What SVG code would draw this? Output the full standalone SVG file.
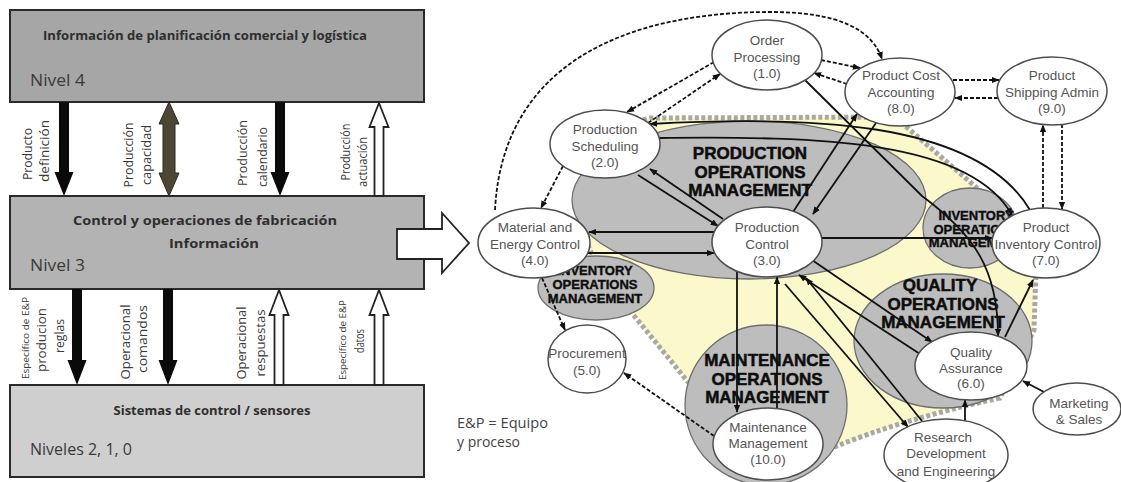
<svg xmlns="http://www.w3.org/2000/svg" width="1121" height="482" viewBox="0 0 1121 482">
  <style>
    .box { stroke: #2a2a2a; stroke-width: 2; }
    .ttl { font-family: "Open Sans", "Noto Sans", sans-serif; font-weight: bold; font-size: 12.5px; fill: #2e2e2e; text-anchor: middle; }
    .lvl { font-family: "Open Sans", "Noto Sans", sans-serif; font-size: 17px; fill: #3a3a3a; }
    .vl { font-family: "Open Sans", "Noto Sans", sans-serif; font-size: 12.5px; fill: #3a3a3a; text-anchor: middle; }
    .vs { font-family: "Open Sans", "Noto Sans", sans-serif; font-size: 9.5px; fill: #3a3a3a; text-anchor: middle; }
    .blk { fill: #0a0a0a; }
    .olv { fill: #4b4733; stroke: #2a2a20; stroke-width: 1; }
    .wht { fill: #ffffff; stroke: #222; stroke-width: 1.8; }
    .leg { font-family: "Open Sans", "Noto Sans", sans-serif; font-size: 14px; fill: #444; }
    .zone { fill: #bdbdbd; stroke: #6e6e6e; stroke-width: 1.3; }
    .zt { font-family: "Liberation Sans", Arial, sans-serif; font-weight: bold; font-size: 17px; fill: #0d0d0d; stroke: #0d0d0d; stroke-width: 0.5; text-anchor: middle; }
    .zs { font-family: "Liberation Sans", Arial, sans-serif; font-weight: bold; font-size: 13px; fill: #0d0d0d; stroke: #0d0d0d; stroke-width: 0.4; text-anchor: middle; }
    .node ellipse { fill: #ffffff; stroke: #4d4d4d; stroke-width: 1.5; }
    .node text { font-family: "Liberation Sans", Arial, sans-serif; font-size: 13.5px; fill: #555; text-anchor: middle; }
    .s { fill: none; stroke: #111; stroke-width: 1.8; }
    .d { fill: none; stroke: #111; stroke-width: 1.8; stroke-dasharray: 4 2; }
  </style>
  <defs>
    <marker id="ah" viewBox="0 0 10 10" refX="9" refY="5" markerWidth="8" markerHeight="8" markerUnits="userSpaceOnUse" orient="auto-start-reverse">
      <path d="M0,1 L10,5 L0,9 z" fill="#111"/>
    </marker>
  </defs>

  <rect width="1121" height="482" fill="#ffffff"/>

  <!-- ===== Left: level stack ===== -->
  <g id="level4">
    <rect class="box" x="10" y="10" width="414" height="92" fill="#a6a6a6"/>
    <text class="ttl" x="205" y="40" font-size="12" textLength="324" lengthAdjust="spacingAndGlyphs">Información de planificación comercial y logística</text>
    <text class="lvl" x="30" y="86" textLength="55" lengthAdjust="spacingAndGlyphs">Nivel 4</text>
  </g>
  <g id="level3">
    <rect class="box" x="10" y="196" width="414" height="93" fill="#b3b3b3"/>
    <text class="ttl" x="205" y="225" textLength="264" lengthAdjust="spacingAndGlyphs">Control y operaciones de fabricación</text>
    <text class="ttl" x="214" y="248" textLength="90" lengthAdjust="spacingAndGlyphs">Información</text>
    <text class="lvl" x="30" y="271" textLength="55" lengthAdjust="spacingAndGlyphs">Nivel 3</text>
  </g>
  <g id="level210">
    <rect class="box" x="10" y="385" width="414" height="92" fill="#cfcfcf"/>
    <text class="ttl" x="212" y="415" textLength="197" lengthAdjust="spacingAndGlyphs">Sistemas de control / sensores</text>
    <text class="lvl" x="30" y="455" textLength="102" lengthAdjust="spacingAndGlyphs">Niveles 2, 1, 0</text>
  </g>

  <!-- flows between level 4 and level 3 -->
  <g id="flows-upper">
    <polygon class="blk" points="59,102 69,102 69,172 73.5,172 64,196 54.5,172 59,172"/>
    <polygon class="olv" points="169,102 179,124 175,124 175,173 179,173 169,196 159,173 163,173 163,124 159,124"/>
    <polygon class="blk" points="275,102 285,102 285,172 289.5,172 280,196 270.5,172 275,172"/>
    <polygon class="wht" points="379,103 388.5,127 383.5,127 383.5,196 374.5,196 374.5,127 369.5,127"/>
    <text class="vl" transform="translate(32,154) rotate(-90)" textLength="52" lengthAdjust="spacingAndGlyphs">Producto</text>
    <text class="vl" transform="translate(49,151) rotate(-90)" textLength="62" lengthAdjust="spacingAndGlyphs">definición</text>
    <text class="vl" transform="translate(133,155) rotate(-90)" textLength="65" lengthAdjust="spacingAndGlyphs">Producción</text>
    <text class="vl" transform="translate(151,155) rotate(-90)" textLength="60" lengthAdjust="spacingAndGlyphs">capacidad</text>
    <text class="vl" transform="translate(247,153) rotate(-90)" textLength="66" lengthAdjust="spacingAndGlyphs">Producción</text>
    <text class="vl" transform="translate(267,157) rotate(-90)" font-size="11.5" textLength="60" lengthAdjust="spacingAndGlyphs">calendario</text>
    <text class="vl" transform="translate(350,152) rotate(-90)" font-size="10.5" textLength="57" lengthAdjust="spacingAndGlyphs">Producción</text>
    <text class="vl" transform="translate(367,162) rotate(-90)" font-size="10.5" textLength="50" lengthAdjust="spacingAndGlyphs">actuación</text>
  </g>

  <!-- flows between level 3 and levels 2,1,0 -->
  <g id="flows-lower">
    <polygon class="blk" points="72,289 82,289 82,360 86.5,360 77,385 67.5,360 72,360"/>
    <polygon class="blk" points="163,289 173,289 173,360 177.5,360 168,385 158.5,360 163,360"/>
    <polygon class="wht" points="279,290 288.5,315 283.5,315 283.5,385 274.5,385 274.5,315 269.5,315"/>
    <polygon class="wht" points="379,290 388.5,315 383.5,315 383.5,385 374.5,385 374.5,315 369.5,315"/>
    <text class="vs" transform="translate(29,338) rotate(-90)" textLength="82" lengthAdjust="spacingAndGlyphs">Específico de E&amp;P</text>
    <text class="vl" transform="translate(46,340) rotate(-90)" font-size="13" textLength="64" lengthAdjust="spacingAndGlyphs">producion</text>
    <text class="vl" transform="translate(64,336) rotate(-90)" font-size="10.5" textLength="34" lengthAdjust="spacingAndGlyphs">reglas</text>
    <text class="vl" transform="translate(130,342) rotate(-90)" font-size="13" textLength="75" lengthAdjust="spacingAndGlyphs">Operacional</text>
    <text class="vl" transform="translate(147,339) rotate(-90)" font-size="13" textLength="68" lengthAdjust="spacingAndGlyphs">comandos</text>
    <text class="vl" transform="translate(246,343) rotate(-90)" font-size="13" textLength="73" lengthAdjust="spacingAndGlyphs">Operacional</text>
    <text class="vl" transform="translate(265,343) rotate(-90)" font-size="13" textLength="67" lengthAdjust="spacingAndGlyphs">respuestas</text>
    <text class="vs" transform="translate(346,340) rotate(-90)" textLength="80" lengthAdjust="spacingAndGlyphs">Específico de E&amp;P</text>
    <text class="vl" transform="translate(364,341) rotate(-90)" font-size="10" textLength="24" lengthAdjust="spacingAndGlyphs">datos</text>
  </g>

  <!-- hand-off arrow to the activity model -->
  <polygon id="handoff" class="wht" stroke-width="1.5" points="397,229 442,229 442,213 469,243 442,273 442,259 397,259"/>

  <g id="legend">
    <text class="leg" x="457" y="428" textLength="91" lengthAdjust="spacingAndGlyphs">E&amp;P = Equipo</text>
    <text class="leg" x="457" y="447">y proceso</text>
  </g>

  <!-- ===== Right: manufacturing operations activity model ===== -->
  <g id="mom-boundary">
    <path d="M600,200 Q600,130 650,118 L895,117 L985,195 L1036,270 L1034,330 L1000,398 Q900,420 832,448 L688,382 L636,318 Q590,270 575,205 Z" fill="#fbf9cb" stroke="#a9a9a2" stroke-width="5" stroke-dasharray="4 2.5"/>
  </g>

  <g id="zone-production">
    <ellipse class="zone" cx="749" cy="200" rx="177" ry="79"/>
    <text class="zt" x="750" y="159">PRODUCTION</text>
    <text class="zt" x="750" y="177.5">OPERATIONS</text>
    <text class="zt" x="750" y="196">MANAGEMENT</text>
  </g>
  <g id="zone-inventory-left">
    <ellipse class="zone" cx="596" cy="288" rx="58" ry="32"/>
    <text class="zs" x="595" y="275">INVENTORY</text>
    <text class="zs" x="595" y="289">OPERATIONS</text>
    <text class="zs" x="595" y="303">MANAGEMENT</text>
  </g>
  <g id="zone-inventory-right">
    <ellipse class="zone" cx="970" cy="228" rx="47" ry="40"/>
    <text class="zs" x="976" y="220">INVENTORY</text>
    <text class="zs" x="976" y="233.5">OPERATIONS</text>
    <text class="zs" x="976" y="247">MANAGEMENT</text>
  </g>
  <g id="zone-quality">
    <ellipse class="zone" cx="943" cy="341" rx="89" ry="67"/>
    <text class="zt" x="940" y="291">QUALITY</text>
    <text class="zt" x="943" y="309.5">OPERATIONS</text>
    <text class="zt" x="943" y="328">MANAGEMENT</text>
  </g>
  <g id="zone-maintenance">
    <ellipse class="zone" cx="766" cy="405" rx="81" ry="80"/>
    <text class="zt" x="767" y="366">MAINTENANCE</text>
    <text class="zt" x="767" y="384.5">OPERATIONS</text>
    <text class="zt" x="767" y="403">MANAGEMENT</text>
  </g>

  <g id="connectors">
    <!-- dashed information flows -->
    <path class="d" d="M495,210 C503,55 640,12 770,12 C840,12 872,30 882,59" marker-end="url(#ah)"/>
    <path class="d" d="M563,166 L541,208" marker-end="url(#ah)"/>
    <path class="d" d="M714,62 L627,112" marker-end="url(#ah)"/>
    <path class="d" d="M648,123 L720,74" marker-end="url(#ah)"/>
    <path class="d" d="M821,60 L860,68" marker-end="url(#ah)"/>
    <path class="d" d="M847,84 L814,73" marker-end="url(#ah)"/>
    <path class="d" d="M953,80 L999,80" marker-end="url(#ah)"/>
    <path class="d" d="M998,98 L955,98" marker-end="url(#ah)"/>
    <path class="d" d="M1043,208 L1043,125" marker-end="url(#ah)"/>
    <path class="d" d="M1062,124 L1062,209" marker-end="url(#ah)"/>
    <path class="d" d="M542,278 L565,330" marker-end="url(#ah)"/>
    <path class="d" d="M714,436 L624,373" marker-end="url(#ah)"/>
    <!-- solid material / control flows -->
    <path class="s" d="M650,124 C800,116 975,118 1030,210" marker-start="url(#ah)"/>
    <path class="s" d="M658,138 C820,136 970,140 1012,215" marker-end="url(#ah)"/>
    <path class="s" d="M723,219 L650,169" marker-end="url(#ah)"/>
    <path class="s" d="M638,175 L718,226" marker-end="url(#ah)"/>
    <path class="s" d="M714,232 L589,232" marker-end="url(#ah)"/>
    <path class="s" d="M588,253 L714,253" marker-end="url(#ah)"/>
    <path class="s" d="M793,212 L857,114" marker-end="url(#ah)"/>
    <path class="s" d="M876,123 L813,214" marker-end="url(#ah)"/>
    <path class="s" d="M822,238 L992,238" marker-end="url(#ah)"/>
    <path class="s" d="M805,80 L922,196 C975,235 998,270 998,336" marker-end="url(#ah)"/>
    <path class="s" d="M812,260 L932,342" marker-end="url(#ah)"/>
    <path class="s" d="M920,354 L799,275" marker-end="url(#ah)"/>
    <path class="s" d="M785,284 L908,427" marker-end="url(#ah)"/>
    <path class="s" d="M922,421 L806,278" marker-end="url(#ah)"/>
    <path class="s" d="M737,272 L737,412" marker-end="url(#ah)"/>
    <path class="s" d="M777,408 L777,277" marker-end="url(#ah)"/>
    <path class="s" d="M1005,337 L1033,280" marker-end="url(#ah)"/>
    <path class="s" d="M1044,392 L1023,381" marker-end="url(#ah)"/>
    <path class="s" d="M965,421 L965,400" marker-end="url(#ah)"/>
  </g>

  <g id="n1" class="node">
    <ellipse cx="767" cy="55" rx="55" ry="35"/>
    <text x="767" y="45">Order</text>
    <text x="767" y="61.5">Processing</text>
    <text x="767" y="78">(1.0)</text>
  </g>
  <g id="n2" class="node">
    <ellipse cx="605" cy="144" rx="55" ry="34"/>
    <text x="605" y="134">Production</text>
    <text x="605" y="150.5">Scheduling</text>
    <text x="605" y="167">(2.0)</text>
  </g>
  <g id="n3" class="node">
    <ellipse cx="767" cy="242" rx="55" ry="35"/>
    <text x="767" y="232">Production</text>
    <text x="767" y="248.5">Control</text>
    <text x="767" y="265">(3.0)</text>
  </g>
  <g id="n4" class="node">
    <ellipse cx="534" cy="243" rx="56" ry="35"/>
    <text x="535" y="232">Material and</text>
    <text x="535" y="248.5">Energy Control</text>
    <text x="535" y="265">(4.0)</text>
  </g>
  <g id="n5" class="node">
    <ellipse cx="587" cy="359" rx="39" ry="34"/>
    <text x="587" y="358">Procurement</text>
    <text x="587" y="375">(5.0)</text>
  </g>
  <g id="n6" class="node">
    <ellipse cx="971" cy="366" rx="56" ry="34"/>
    <text x="971" y="357">Quality</text>
    <text x="971" y="372.5">Assurance</text>
    <text x="971" y="388">(6.0)</text>
  </g>
  <g id="n7" class="node">
    <ellipse cx="1046" cy="243" rx="54" ry="35"/>
    <text x="1046" y="232">Product</text>
    <text x="1046" y="249">Inventory Control</text>
    <text x="1046" y="265">(7.0)</text>
  </g>
  <g id="n8" class="node">
    <ellipse cx="900" cy="92" rx="55" ry="34"/>
    <text x="901" y="80">Product Cost</text>
    <text x="901" y="97">Accounting</text>
    <text x="901" y="113">(8.0)</text>
  </g>
  <g id="n9" class="node">
    <ellipse cx="1052" cy="91" rx="55" ry="34"/>
    <text x="1052" y="80">Product</text>
    <text x="1052" y="97">Shipping Admin</text>
    <text x="1052" y="113">(9.0)</text>
  </g>
  <g id="n10" class="node">
    <ellipse cx="768" cy="444" rx="55" ry="36"/>
    <text x="768" y="432" font-size="11.5">Maintenance</text>
    <text x="768" y="448">Management</text>
    <text x="768" y="464">(10.0)</text>
  </g>
  <g id="marketing" class="node">
    <ellipse cx="1077" cy="409" rx="44" ry="26"/>
    <text x="1079" y="408">Marketing</text>
    <text x="1079" y="424">&amp; Sales</text>
  </g>
  <g id="rde" class="node">
    <ellipse cx="946" cy="455" rx="62" ry="36"/>
    <text x="943" y="442">Research</text>
    <text x="946" y="458">Development</text>
    <text x="946" y="476">and Engineering</text>
  </g>
</svg>
